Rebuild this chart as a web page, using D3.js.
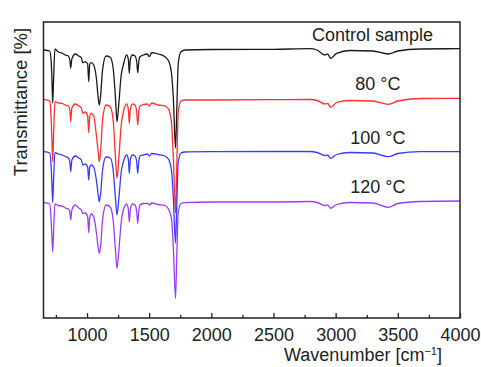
<!DOCTYPE html>
<html>
<head>
<meta charset="utf-8">
<script src="https://cdn.jsdelivr.net/npm/d3@7"></script>
<style>
  body { margin: 0; background: #fff; }
  text { font-family: "Liberation Sans", Arial, sans-serif; fill: #222; }
</style>
</head>
<body>
<div id="chart"></div>
<script>
// wavenumbers shared by all four spectra (cm-1)
const wavenumbers = [654, 700, 712, 718, 724, 731, 742, 770, 799, 825, 850, 862, 869, 878, 906, 933, 955, 965, 986, 1005,
  1014, 1022, 1034, 1054, 1075, 1090, 1099, 1110, 1125, 1153, 1187, 1210, 1230, 1241, 1255, 1275, 1292, 1319, 1333, 1340,
  1348, 1364, 1386, 1400, 1408, 1416, 1426, 1453, 1485, 1501, 1520, 1573, 1627, 1659, 1681, 1695, 1712, 1722, 1734, 1756,
  1788, 2000, 2500, 2793, 2850, 2914, 2935, 2960, 3008, 3115, 3300, 3423, 3500, 3678, 4000];

// transmittance, arbitrary units, stacked spectra
const control = [268, 267, 256, 238, 215, 238, 269, 266, 265, 263, 262, 258, 250, 259, 264, 262, 260, 255.3, 256.3, 254,
  236.3, 254, 255.3, 253, 240, 220, 213, 223, 248, 262, 260.7, 250, 218, 196.3, 213, 243, 253, 263, 258, 244.7,
  258, 263, 262, 256, 245.3, 256, 261.3, 263, 264, 261.3, 265.3, 264, 261.3, 256.3, 243, 218, 170, 208, 255, 266.3,
  268, 268.5, 268.7, 269.3, 268, 263, 264, 259.7, 264.7, 267.5, 267, 264, 267, 269, 269.3];
const t80 = [218.7, 217, 198, 178, 156.3, 183, 216.3, 215, 214.7, 213, 212, 208, 196.3, 210, 214, 212, 210, 204.7, 206, 202,
  185.3, 202, 204.7, 202, 183, 166, 156.3, 168, 198, 213, 211, 198, 158, 139.7, 158, 193, 206, 214, 208, 194.7,
  208, 214, 213, 206, 193, 206, 212, 213.5, 214, 212, 215, 213, 212, 208, 193, 158, 105, 153, 206, 217,
  218, 218, 218.3, 218.5, 217.5, 214, 214.5, 210.7, 215.5, 217.5, 217, 213.7, 217, 219.5, 219.7];
const t100 = [166.3, 165, 150, 133, 115.5, 138, 165.3, 164, 163, 161.5, 160, 156, 146.3, 158, 162, 160, 158, 153, 154, 151,
  138, 151, 153, 151, 138, 123, 116.3, 125, 148, 161, 160, 148, 118, 103, 118, 146, 156, 163, 158, 144.7,
  158, 163, 162, 156, 144.7, 156, 162, 163, 164, 162, 164.5, 163.5, 162, 158, 146, 118, 75, 113, 156, 165,
  166, 166.3, 166.5, 166.5, 165.5, 162.5, 163, 159.7, 163.5, 165.5, 165, 161.3, 164.5, 166.3, 166.3];
const t120 = [115.3, 114, 96, 80, 66.3, 86, 114, 112.5, 112, 110, 109, 106, 98, 108, 113, 110, 108, 104.7, 105, 101,
  85.3, 101, 104, 101, 86, 70, 64.7, 73, 98, 113, 111, 98, 66, 49.7, 66, 96, 108, 114, 108, 96.3,
  108, 114, 113, 106, 94.7, 106, 113, 114.5, 114.7, 113, 115, 113.5, 112.5, 108, 98, 68, 19.7, 63, 106, 114.5,
  115.3, 116, 116, 116.5, 115.5, 112.5, 113, 109.7, 113.5, 115.5, 115, 110.7, 114.5, 116.5, 117];

const seriesNames = ["Control sample", "80 °C", "100 °C", "120 °C"];
const seriesValues = [control, t80, t100, t120];
const seriesColors = ["#1a1a1a", "#ff3030", "#3a3aff", "#9a3cff"];
const xTicks = [1000, 1500, 2000, 2500, 3000, 3500, 4000];
const xMinorTicks = [750, 1250, 1750, 2250, 2750, 3250, 3750];

const W = 481, H = 367;
const margin = { top: 22, right: 21, bottom: 49, left: 43.5 };
const width = W - margin.left - margin.right;
const height = H - margin.top - margin.bottom;

const svg = d3.select("#chart").append("svg")
  .attr("width", W)
  .attr("height", H);

const x = d3.scaleLinear().domain([650, 4000]).range([0, width]);
const y = d3.scaleLinear().domain([0, 296]).range([height, 0]);

const g = svg.append("g")
  .attr("transform", `translate(${margin.left},${margin.top})`);

// spectra
const line = d3.line()
  .x((d, i) => x(wavenumbers[i]))
  .y(d => y(d))
  .curve(d3.curveMonotoneX);

seriesValues.forEach((vals, k) => {
  g.append("path")
    .datum(vals)
    .attr("fill", "none")
    .attr("stroke", seriesColors[k])
    .attr("stroke-width", 1.3)
    .attr("d", line);

  // label sits above the flat right-hand part of each trace
  g.append("text")
    .attr("x", k == 0 ? x(3296) : x(3340))
    .attr("y", y(vals[vals.length - 1]) - 8)
    .attr("text-anchor", "middle")
    .style("font-size", "18px")
    .text(seriesNames[k]);
});

// frame
g.append("rect")
  .attr("width", width)
  .attr("height", height)
  .attr("fill", "none")
  .attr("stroke", "#222")
  .attr("stroke-width", 1.5);

// bottom axis, ticks pointing inward
const xAxis = g.append("g")
  .attr("transform", `translate(0,${height})`)
  .call(d3.axisBottom(x).tickValues(xTicks).tickFormat(d3.format("d"))
    .tickSizeInner(-5).tickSizeOuter(0).tickPadding(10));
xAxis.select(".domain").remove();
xAxis.selectAll("line").attr("stroke", "#222").attr("stroke-width", 1.3);
xAxis.selectAll("text").style("font-size", "18px").attr("fill", "#222");

const xMinor = g.append("g")
  .attr("transform", `translate(0,${height})`)
  .call(d3.axisBottom(x).tickValues(xMinorTicks).tickSizeInner(-3).tickSizeOuter(0).tickFormat(""));
xMinor.select(".domain").remove();
xMinor.selectAll("line").attr("stroke", "#222").attr("stroke-width", 1.3);

// axis titles
const xt = svg.append("text")
  .attr("x", 363)
  .attr("y", 361)
  .attr("text-anchor", "middle")
  .style("font-size", "18px");
xt.append("tspan").text("Wavenumber [cm");
xt.append("tspan").attr("dy", -6).style("font-size", "11px").text("\u22121");
xt.append("tspan").attr("dy", 6).text("]");

svg.append("text")
  .attr("transform", "translate(27,102) rotate(-90)")
  .attr("text-anchor", "middle")
  .style("font-size", "18.5px")
  .text("Transmittance [%]");
</script>
</body>
</html>
